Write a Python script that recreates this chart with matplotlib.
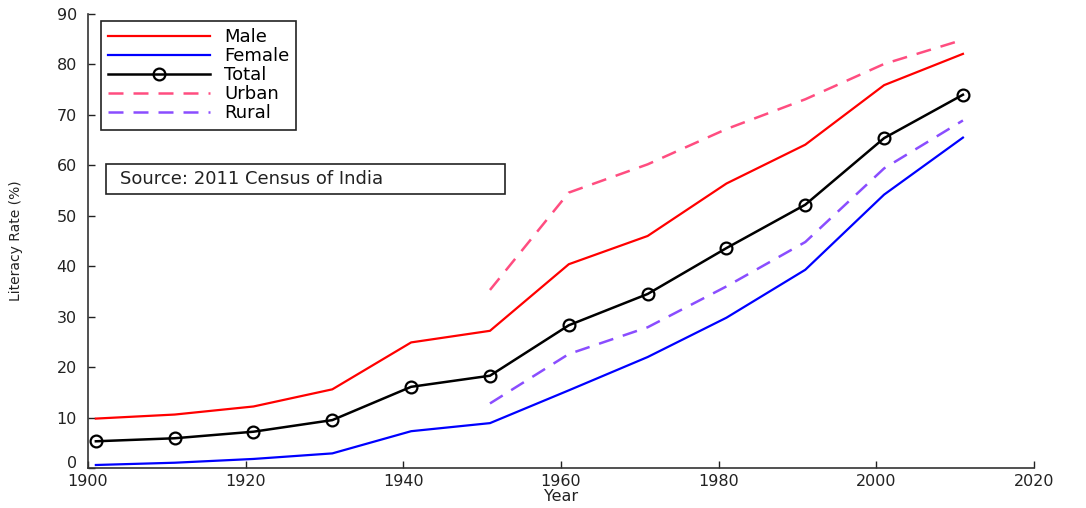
import matplotlib
matplotlib.use('Agg')
import matplotlib.pyplot as plt
from matplotlib.patches import Rectangle
from matplotlib.transforms import ScaledTranslation

# census years and literacy rates (%)
years = [1901, 1911, 1921, 1931, 1941, 1951, 1961, 1971, 1981, 1991, 2001, 2011]
male = [9.8, 10.6, 12.2, 15.6, 24.9, 27.2, 40.4, 46.0, 56.4, 64.1, 75.9, 82.1]
female = [0.6, 1.05, 1.8, 2.9, 7.3, 8.9, 15.4, 22.0, 29.8, 39.3, 54.2, 65.5]
total = [5.3, 5.9, 7.2, 9.5, 16.1, 18.3, 28.3, 34.5, 43.6, 52.2, 65.4, 74.0]

years_ur = [1951, 1961, 1971, 1981, 1991, 2001, 2011]
urban = [35.3, 54.6, 60.2, 67.2, 73.1, 80.1, 84.9]
rural = [12.8, 22.6, 27.9, 36.0, 44.8, 59.4, 68.9]

plt.rcParams['font.family'] = ['DejaVu Sans']
txt_col = '#222222'
fs = 13
tick_fs = 11.5

fig = plt.figure(figsize=(10.86, 5.08), dpi=100)
ax = fig.add_axes([0.081, 0.0787, 0.871, 0.8937])

ax.plot(years, male, color='#ff0000', lw=1.6, label='Male')
ax.plot(years, female, color='#0000ff', lw=1.6, label='Female')
ax.plot(years, total, color='black', lw=1.8, marker='o', ms=8.5,
        mfc='none', mec='black', mew=1.6, label='Total')
ax.plot(years_ur, urban, color='#ff4d80', lw=1.8, ls=(0, (6, 4)), label='Urban')
ax.plot(years_ur, rural, color='#8a4dff', lw=1.8, ls=(0, (6, 4)), label='Rural')

ax.set_xlim(1900, 2020)
ax.set_ylim(0, 90)
ax.set_xticks(range(1900, 2021, 20))
ax.set_yticks(range(0, 91, 10))
ax.spines['top'].set_visible(False)
ax.spines['right'].set_visible(False)
for s in ['left', 'bottom']:
    ax.spines[s].set_linewidth(1.2)
    ax.spines[s].set_color('#333333')
ax.tick_params(direction='in', length=5, width=1, labelsize=tick_fs,
               colors=txt_col)
ax.tick_params(axis='x', pad=4)
ax.tick_params(axis='y', pad=8)

# lift the "0" label a little so it clears "1900"
zero_lab = ax.yaxis.get_major_ticks()[0].label1
zero_lab.set_transform(zero_lab.get_transform()
                       + ScaledTranslation(0, 4 / 72, fig.dpi_scale_trans))

ax.set_xlabel('Year', fontsize=tick_fs, labelpad=0, color=txt_col)
ax.set_ylabel('Literacy Rate (%)', fontsize=10,
              labelpad=24, color=txt_col)

leg = ax.legend(loc='upper left', bbox_to_anchor=(0.014, 0.985), fontsize=fs,
                handlelength=5.6, labelspacing=0.06, borderpad=0.4,
                handletextpad=0.8, borderaxespad=0, fancybox=False,
                framealpha=1, edgecolor=txt_col)
leg.get_frame().set_linewidth(1.2)

# source note box
ax.add_patch(Rectangle((0.019, 0.6035), 0.422, 0.0661, transform=ax.transAxes,
                       fc='white', ec=txt_col, lw=1.2, zorder=5))
ax.text(0.034, 0.636, 'Source: 2011 Census of India', fontsize=fs,
        color=txt_col, va='center', ha='left', transform=ax.transAxes,
        zorder=6)

fig.savefig('out.png', dpi=100)
